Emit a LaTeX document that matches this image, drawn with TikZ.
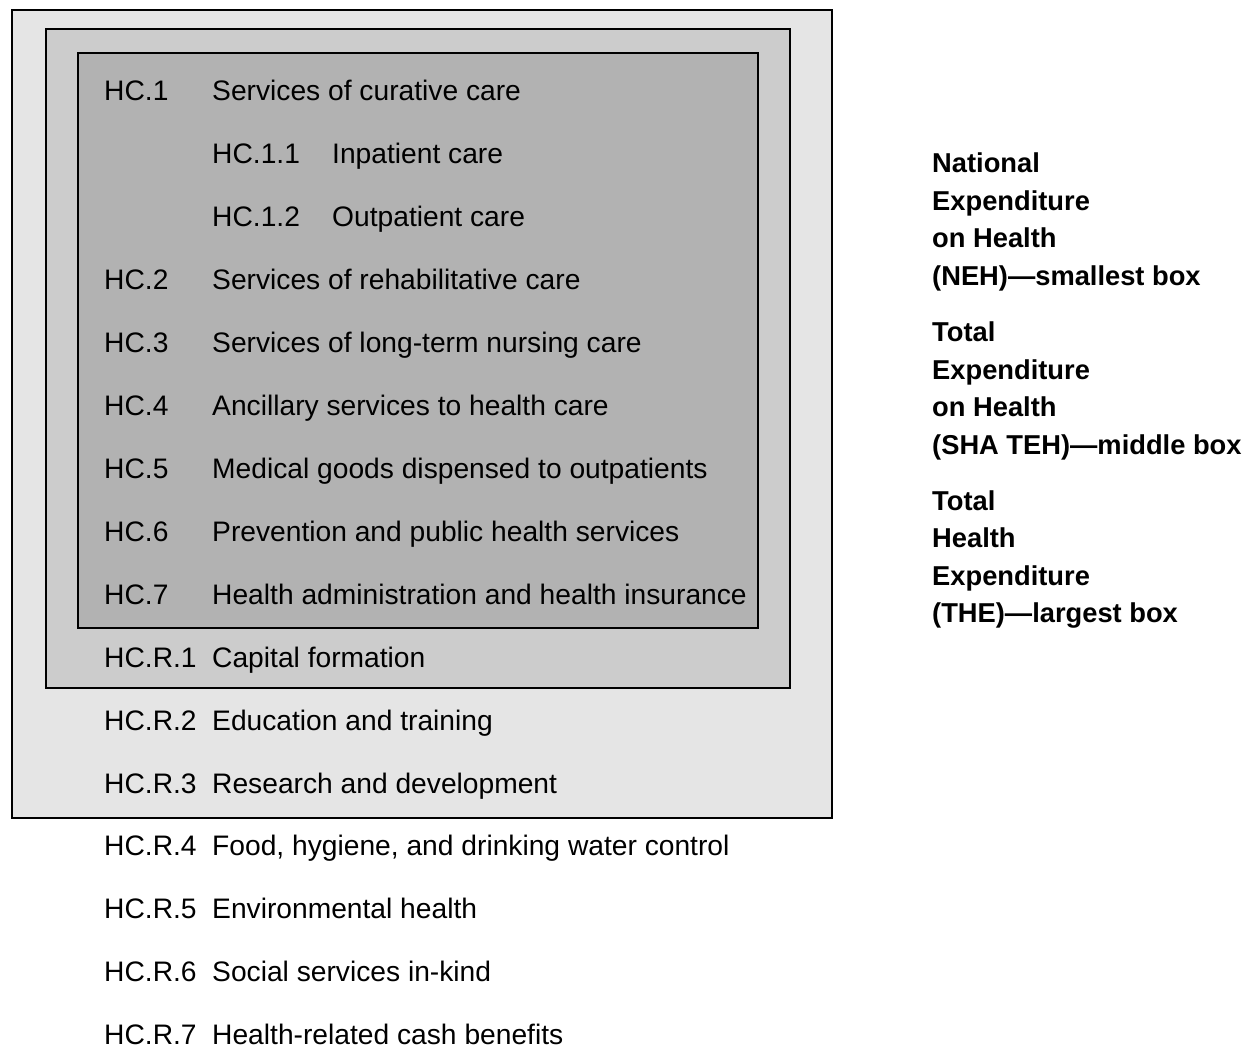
\documentclass[tikz,border=0pt]{standalone}
\usepackage{fontspec}
\setmainfont{Liberation Sans}
\begin{document}
\begin{tikzpicture}[x=1pt,y=-1pt,
  boxline/.style={draw=black,line width=2.2pt},
  itm/.style={inner sep=0pt,anchor=base west,font=\fontsize{28.2}{32}\selectfont},
  lbl/.style={inner sep=0pt,anchor=base west,font=\fontsize{27.3}{30}\selectfont\bfseries}]
\useasboundingbox (0,0) rectangle (1253,1048);
\fill[white] (0,0) rectangle (1253,1048);
\draw[boxline,fill=black!10] (12,10) rectangle (832,818);
\draw[boxline,fill=black!20] (46,29) rectangle (790,688);
\draw[boxline,fill=black!30] (78,53) rectangle (758,628);
% rows
\node[itm] (c1) at (104,101) {HC.1};
\node[itm] (t1) at (212,101) {Services of curative care};
\node[itm] (c11) at (212,164) {HC.1.1};
\node[itm] (t11) at (332,164) {Inpatient care};
\node[itm] (c12) at (212,227) {HC.1.2};
\node[itm] (t12) at (332,227) {Outpatient care};
\node[itm] (c2) at (104,290) {HC.2};
\node[itm] (t2) at (212,290) {Services of rehabilitative care};
\node[itm] (c3) at (104,352.5) {HC.3};
\node[itm] (t3) at (212,352.5) {Services of long-term nursing care};
\node[itm] (c4) at (104,415.5) {HC.4};
\node[itm] (t4) at (212,415.5) {Ancillary services to health care};
\node[itm] (c5) at (104,478) {HC.5};
\node[itm] (t5) at (212,478) {Medical goods dispensed to outpatients};
\node[itm] (c6) at (104,541) {HC.6};
\node[itm] (t6) at (212,541) {Prevention and public health services};
\node[itm] (c7) at (104,604) {HC.7};
\node[itm] (t7) at (212,604) {Health administration and health insurance};
\node[itm] (r1) at (104,667) {HC.R.1};
\node[itm] (s1) at (212,667) {Capital formation};
\node[itm] (r2) at (104,730) {HC.R.2};
\node[itm] (s2) at (212,730) {Education and training};
\node[itm] (r3) at (104,793) {HC.R.3};
\node[itm] (s3) at (212,793) {Research and development};
\node[itm] (r4) at (104,855.5) {HC.R.4};
\node[itm] (s4) at (212,855.5) {Food, hygiene, and drinking water control};
\node[itm] (r5) at (104,918.5) {HC.R.5};
\node[itm] (s5) at (212,918.5) {Environmental health};
\node[itm] (r6) at (104,981) {HC.R.6};
\node[itm] (s6) at (212,981) {Social services in-kind};
\node[itm] (r7) at (104,1044) {HC.R.7};
\node[itm] (s7) at (212,1044) {Health-related cash benefits};
% legend
\node[lbl] (n1) at (932,173) {National};
\node[lbl] (n2) at (932,210.5) {Expenditure};
\node[lbl] (n3) at (932,248) {on Health};
\node[lbl] (n4) at (932,285.5) {(NEH)—smallest box};
\node[lbl] (m1) at (932,342) {Total};
\node[lbl] (m2) at (932,379.5) {Expenditure};
\node[lbl] (m3) at (932,417) {on Health};
\node[lbl] (m4) at (932,454.5) {(SHA TEH)—middle box};
\node[lbl] (l1) at (932,510) {Total};
\node[lbl] (l2) at (932,547.5) {Health};
\node[lbl] (l3) at (932,585) {Expenditure};
\node[lbl] (l4) at (932,622.5) {(THE)—largest box};
\end{tikzpicture}
\end{document}
